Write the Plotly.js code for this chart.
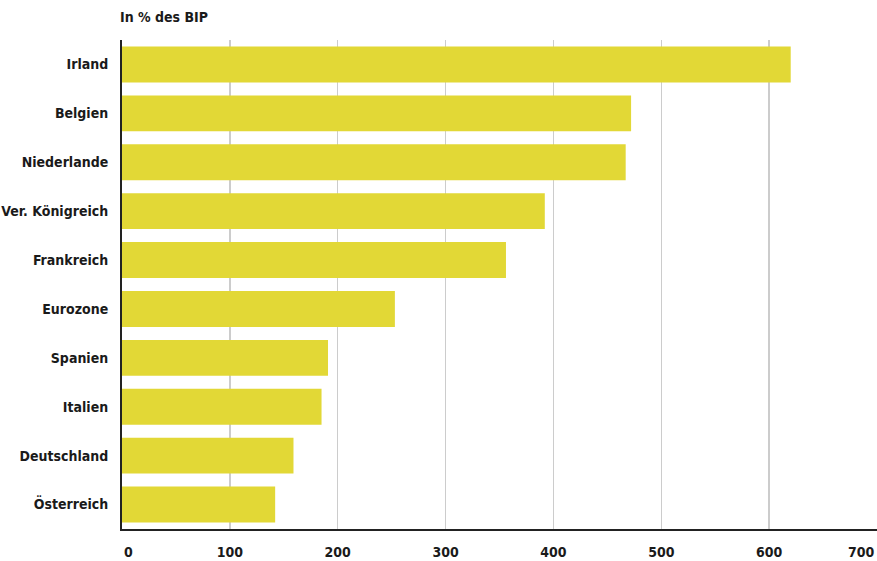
<!DOCTYPE html>
<html>
<head>
<meta charset="utf-8">
<script src="https://cdn.plot.ly/plotly-3.0.1.min.js"></script>
<style>
html,body{margin:0;padding:0;background:#fff;}
#chart{width:877px;height:561px;}
</style>
</head>
<body>
<div id="chart"></div>
<script>
const countries = ["Irland","Belgien","Niederlande","Ver. Königreich","Frankreich","Eurozone","Spanien","Italien","Deutschland","Österreich"];
const values = [620, 472, 467, 392, 356, 253, 191, 185, 159, 142];
const tickVals = [100, 200, 300, 400, 500, 600];
const edgeTicks = [0, 700];

const FONT = '"DejaVu Sans Condensed", "Liberation Sans Narrow", sans-serif';

const trace = {
  type: 'bar',
  orientation: 'h',
  x: values,
  y: countries,
  marker: {color: '#e2d836'},
  hoverinfo: 'x+y'
};

const layout = {
  width: 877,
  height: 561,
  margin: {l: 122, r: 0, t: 40, b: 32},
  paper_bgcolor: '#ffffff',
  plot_bgcolor: '#ffffff',
  bargap: 0.265,
  showlegend: false,
  font: {family: FONT, size: 14, color: '#1a1a1a'},
  title: {
    text: '<b>In % des BIP</b>',
    font: {family: FONT, size: 14, color: '#1a1a1a'},
    xref: 'paper', x: 0, xanchor: 'left',
    yref: 'container', y: 1 - 17/561, yanchor: 'middle',
    pad: {l: -2}
  },
  xaxis: {
    range: [0, 700],
    tickvals: tickVals,
    ticktext: tickVals.map(v => '<b>' + v + '</b>'),
    showgrid: true,
    gridcolor: '#cccccc',
    gridwidth: 1.5,
    zeroline: false,
    showline: true,
    linecolor: '#222222',
    linewidth: 2,
    ticks: '',
    ticklabelstandoff: 9,
    tickfont: {family: FONT, size: 14, color: '#1a1a1a'},
    fixedrange: true
  },
  yaxis: {
    autorange: 'reversed',
    showgrid: false,
    zeroline: false,
    showline: true,
    linecolor: '#222222',
    linewidth: 2,
    ticks: '',
    ticklabelstandoff: 9,
    tickvals: countries,
    ticktext: countries.map(c => '<b>' + c + '</b>'),
    tickfont: {family: FONT, size: 14, color: '#1a1a1a'},
    fixedrange: true
  },
  annotations: [
    {xref: 'x', yref: 'paper', x: edgeTicks[0], y: 0, xanchor: 'left', yanchor: 'top', yshift: -13,
     text: '<b>' + edgeTicks[0] + '</b>', showarrow: false, font: {family: FONT, size: 14, color: '#1a1a1a'}},
    {xref: 'x', yref: 'paper', x: edgeTicks[1], y: 0, xanchor: 'right', yanchor: 'top', yshift: -13,
     text: '<b>' + edgeTicks[1] + '</b>', showarrow: false, font: {family: FONT, size: 14, color: '#1a1a1a'}}
  ]
};

Plotly.newPlot('chart', [trace], layout, {displayModeBar: false, staticPlot: true});
</script>
</body>
</html>
